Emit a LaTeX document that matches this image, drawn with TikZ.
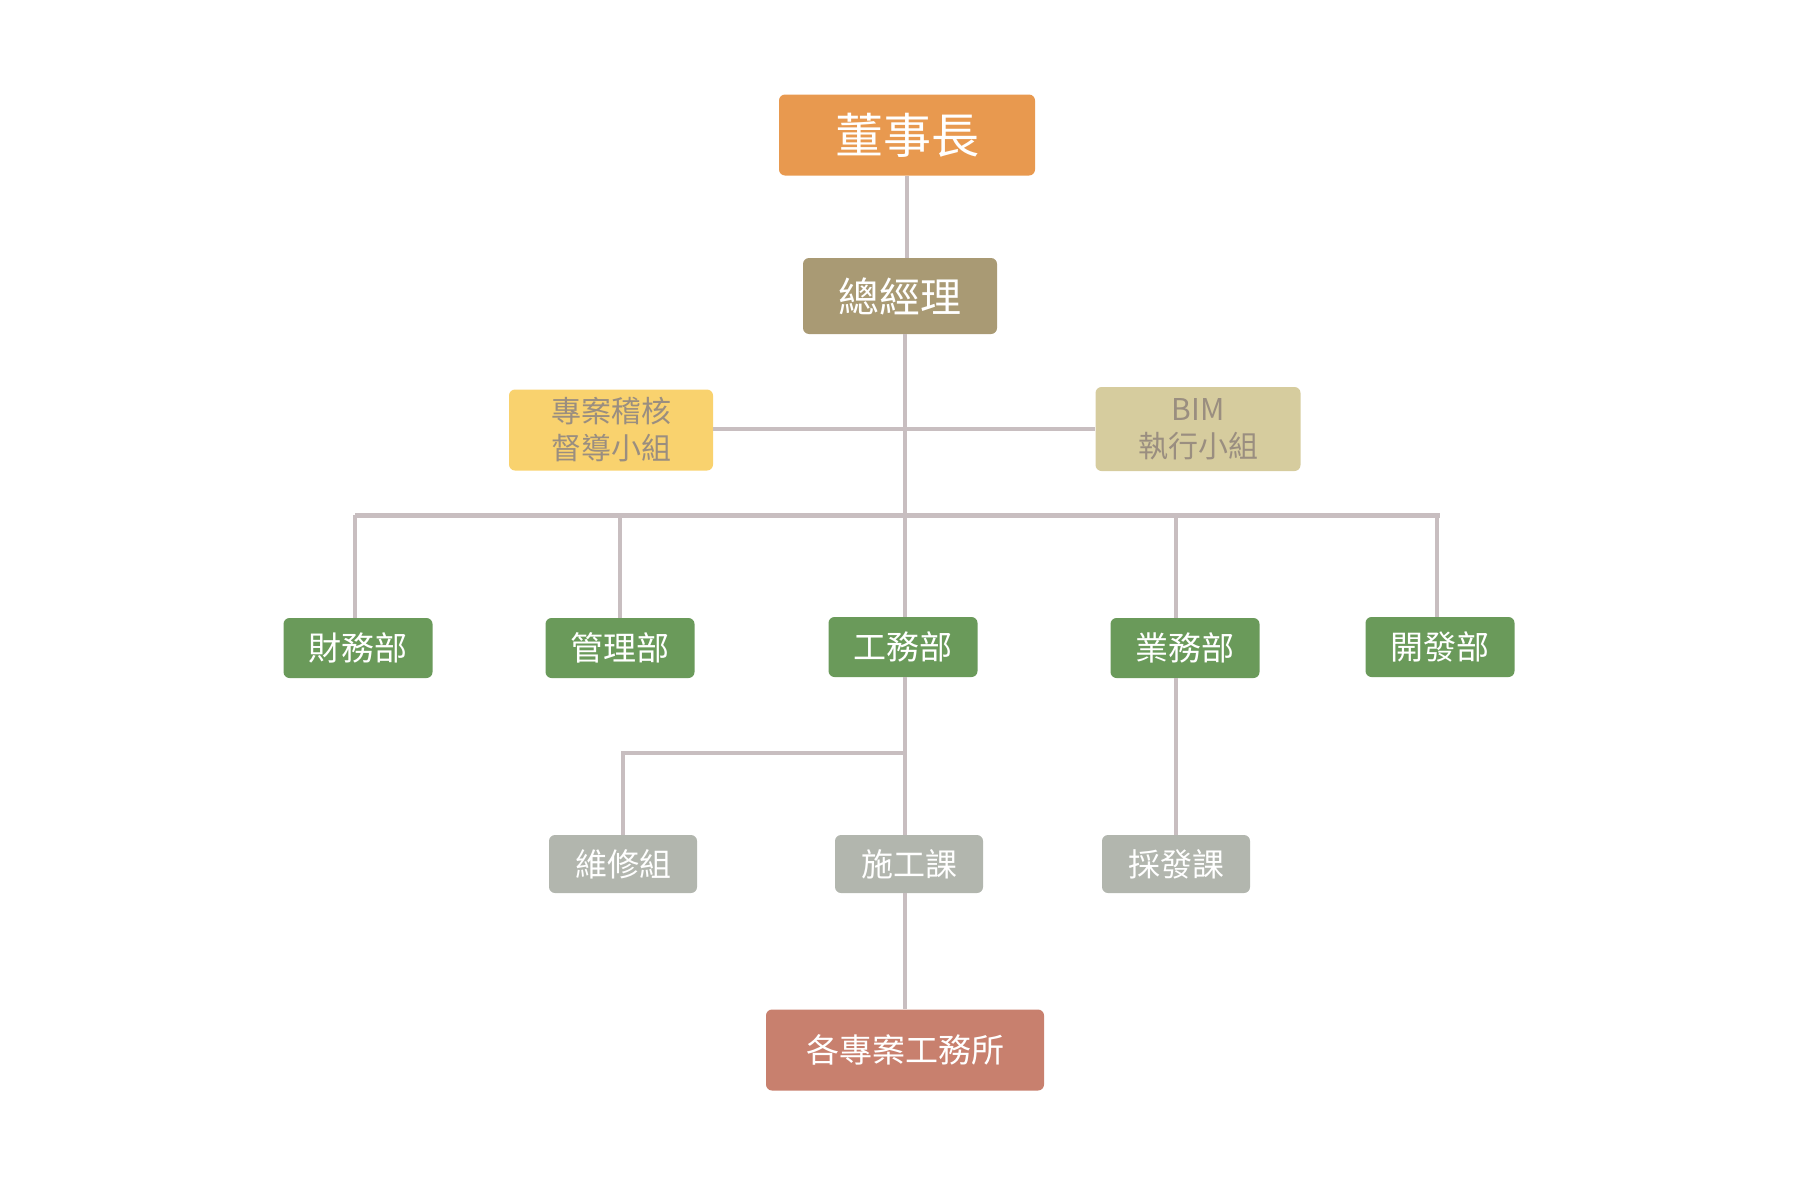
\documentclass[tikz,border=0pt]{standalone}
\usepackage{fontspec}
\setmainfont{Noto Sans CJK TC}
\definecolor{cChair}{HTML}{E8994F}
\definecolor{cGM}{HTML}{A99A74}
\definecolor{cAudit}{HTML}{F9D26E}
\definecolor{cBIM}{HTML}{D6CC9E}
\definecolor{cDept}{HTML}{6A9A5A}
\definecolor{cSub}{HTML}{B2B6AE}
\definecolor{cSite}{HTML}{C8806E}
\definecolor{cLine}{HTML}{C8BEC0}
\definecolor{cGrayText}{HTML}{9A8E80}
\begin{document}
\begin{tikzpicture}[x=0.5pt,y=-0.5pt,
  box/.style={rounded corners=3pt, inner sep=0pt, align=center, text=white},
  dept/.style={box, fill=cDept, minimum width=74.5pt, minimum height=30pt, font=\fontsize{16.5}{18}\selectfont},
  sub/.style={box, fill=cSub, minimum width=74pt, minimum height=29pt, font=\fontsize{16}{18}\selectfont},
  conn/.style={draw=cLine, line width=2pt}]
\useasboundingbox (0,0) rectangle (1800,1194);
\node[box, fill=cChair, minimum width=128pt, minimum height=40.5pt, font=\fontsize{24}{28}\selectfont] (chair) at (907,135) {董事長};
\node[box, fill=cGM, minimum width=97pt, minimum height=38pt, font=\fontsize{20.5}{24}\selectfont] (gm) at (900,296) {總經理};
\node[box, fill=cAudit, text=cGrayText, minimum width=102pt, minimum height=40.5pt, font=\fontsize{15}{18.5}\selectfont] (audit) at (611,430) {專案稽核\\督導小組};
\node[box, fill=cBIM, text=cGrayText, minimum width=102.5pt, minimum height=42pt, font=\fontsize{15}{18.5}\selectfont] (bim) at (1198,429) {BIM\\執行小組};
\coordinate (bus) at (905,515);
\coordinate (mid) at (905,429);
\node[dept] (fin) at (358,648) {財務部};
\node[dept] (adm) at (620,648) {管理部};
\node[dept] (eng) at (903,647) {工務部};
\node[dept] (biz) at (1185,648) {業務部};
\node[dept] (dev) at (1440,647) {開發部};
\node[sub] (maint) at (623,864) {維修組};
\node[sub] (cons) at (909,864) {施工課};
\node[sub] (proc) at (1176,864) {採發課};
\node[box, fill=cSite, minimum width=139pt, minimum height=40.5pt, font=\fontsize{16.5}{18}\selectfont] (site) at (905,1050) {各專案工務所};
\coordinate (branch) at (905,753);
\coordinate (bizline) at (1176,515);
% connectors
\draw[conn] (chair.south) -- (chair.south |- gm.north);
\draw[conn] (gm.south -| bus) -- (eng.north -| bus);
\draw[conn] (audit.east |- mid) -- (bim.west |- mid);
\draw[conn, line width=2.5pt] (355,515) -- (dev.north |- bus);
\draw[conn] (355,515) -- (fin.north -| 355,0);
\draw[conn] (adm.north |- bus) -- (adm.north);
\draw[conn] (bizline) -- (biz.north -| bizline);
\draw[conn] (1437,515) -- (dev.north -| 1437,0);
\draw[conn] (eng.south -| bus) -- (cons.north -| bus);
\draw[conn] (branch) -- (branch -| maint.north) -- (maint.north);
\draw[conn] (biz.south -| proc.north) -- (proc.north);
\draw[conn] (cons.south -| site.north) -- (site.north);
\end{tikzpicture}
\end{document}
